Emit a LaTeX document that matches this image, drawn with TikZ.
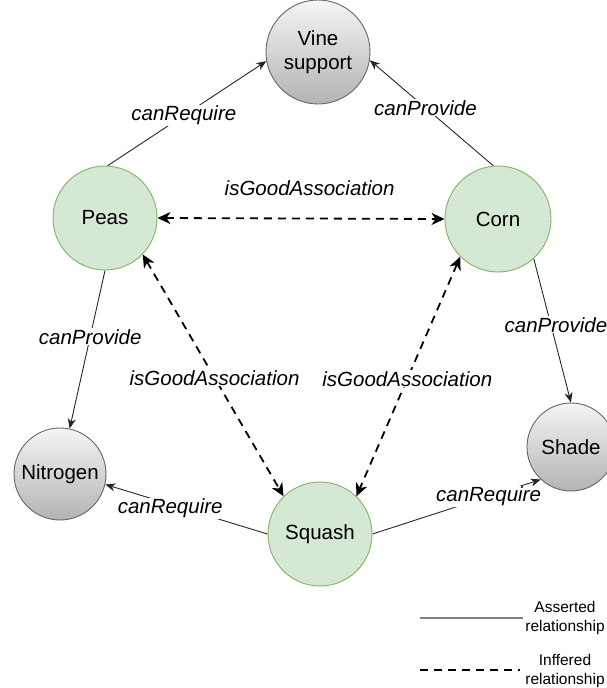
\documentclass[tikz,border=0pt]{standalone}
\usepackage{fontspec}
\setmainfont{Liberation Sans}
\usetikzlibrary{arrows.meta}
\definecolor{plantfill}{HTML}{D5E8D4}
\definecolor{plantline}{HTML}{82B366}
\definecolor{needtop}{HTML}{F5F5F5}
\definecolor{needbottom}{HTML}{B3B3B3}
\definecolor{needline}{HTML}{666666}

\begin{document}
\begin{tikzpicture}[
                x=1pt, y=-1pt,
                every node/.style={font=\fontsize{20.5}{24}\selectfont},
                plant/.style={circle, draw=plantline, fill=plantfill, line width=0.9pt, minimum size=104pt, inner sep=0pt},
                need/.style={circle, draw=needline, top color=needtop, bottom color=needbottom, line width=0.9pt, inner sep=0pt, align=center},
                asserted/.style={draw=black!85, line width=0.9pt, -{Stealth[length=10pt, width=8pt, inset=3pt]}},
                inferred/.style={draw=black, line width=1.8pt, dash pattern=on 8pt off 6pt,
                        {Stealth[length=13pt, width=12pt, inset=4pt]}-{Stealth[length=13pt, width=12pt, inset=4pt]}},
                rel/.style={fill=white, inner sep=1pt, font=\fontsize{20.5}{24}\selectfont\itshape},
                legend/.style={align=center, inner sep=0pt, font=\fontsize{15.5}{19}\selectfont}
            ]
            \useasboundingbox (0,0) rectangle (607,688);

            % plants
            \node[plant] (peas) at (105,218) {Peas};
            \node[plant, minimum size=106pt] (corn) at (498,219) {Corn};
            \node[plant] (squash) at (320,534) {Squash};

            % what they need or give
            \node[need, minimum size=104pt] (vine) at (318,52) {Vine\\support};
            \node[need, minimum size=92pt] (nitrogen) at (60,474) {Nitrogen};
            \node[need, minimum size=88pt] (shade) at (571,447) {Shade};

            % asserted
            \draw[asserted] (peas.87) -- node[rel, pos=0.48] {canRequire} (vine.190);
            \draw[asserted] (corn.95) -- node[rel, pos=0.55] {canProvide} (vine.351);
            \draw[asserted] (peas.270) -- node[rel, pos=0.42] {canProvide} (nitrogen.78);
            \draw[asserted] (corn.312) -- node[rel, pos=0.46, xshift=5pt] {canProvide} (shade.90);
            \draw[asserted] (squash.180) -- node[rel, pos=0.6, yshift=-4pt] {canRequire} (nitrogen.347);
            \draw[asserted] (squash.0) -- node[rel, pos=0.69] {canRequire} (shade.227);

            % inferred
            \draw[inferred] (peas.0) -- node[rel, pos=0.53, above=21pt, fill=none] {isGoodAssociation} (corn.180);
            \draw[inferred] (peas.316) -- node[rel, pos=0.51] {isGoodAssociation} (squash.134);
            \draw[inferred] (corn.225) -- node[rel, pos=0.51] {isGoodAssociation} (squash.46);

            % legend
            \coordinate (assertedA) at (420,618);
            \coordinate (assertedB) at (523,618);
            \coordinate (inferredA) at (420,670);
            \coordinate (inferredB) at (520,670);
            \draw[draw=gray, line width=1.5pt] (assertedA) -- (assertedB);
            \draw[line width=2pt, dash pattern=on 8pt off 6pt] (inferredA) -- (inferredB);
            \node[legend] (assertedtext) at (565,618) {Asserted\\relationship};
            \node[legend] (inferredtext) at (565,671) {Inffered\\relationship};

        \end{tikzpicture}
\end{document}
